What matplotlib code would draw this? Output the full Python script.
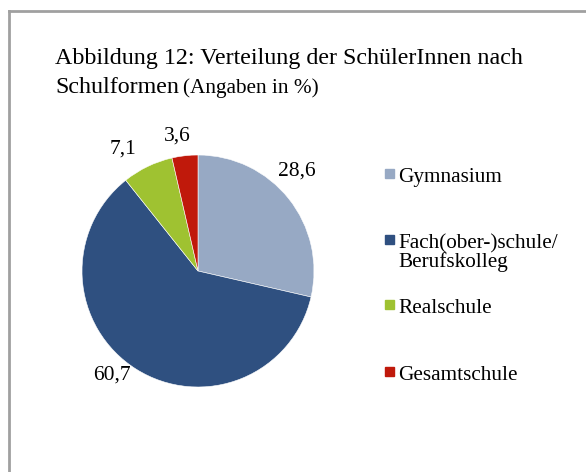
import matplotlib
matplotlib.use("Agg")
import matplotlib.pyplot as plt
from matplotlib.lines import Line2D
from matplotlib.patches import Rectangle

plt.rcParams['font.family'] = ['Liberation Serif', 'DejaVu Serif']

# data
categories = ['Gymnasium', 'Fach(ober-)schule/\nBerufskolleg', 'Realschule', 'Gesamtschule']
values = [28.6, 60.7, 7.1, 3.6]
value_labels = ['28,6', '60,7', '7,1', '3,6']
colors = ['#97A9C4', '#2F5080', '#9FC231', '#C0190B']

W, H = 586, 472
fig = plt.figure(figsize=(W / 100, H / 100), dpi=100)

# frame (only left and top edges visible in the reference)
fig.add_artist(Line2D([9.5 / W, 9.5 / W], [0, 1 - 11 / H], color='#A0A0A0', lw=2, transform=fig.transFigure))
fig.add_artist(Line2D([9.5 / W, 1], [1 - 11 / H, 1 - 11 / H], color='#A0A0A0', lw=2, transform=fig.transFigure))

# title
fig.text(55 / W, 1 - 64 / H, 'Abbildung 12: Verteilung der SchülerInnen nach', fontsize=17.3, va='baseline')
t2 = fig.text(55 / W, 1 - 93 / H, 'Schulformen', fontsize=17.3, va='baseline')
fig.canvas.draw()
bb = t2.get_window_extent()
fig.text(bb.x1 / W + 4 / W, 1 - 93 / H, '(Angaben in %)', fontsize=15.3, va='baseline')

# pie
cx, cy, r = 198, 271, 116
ax = fig.add_axes([(cx - r) / W, (H - cy - r) / H, 2 * r / W, 2 * r / H])
wedges, texts = ax.pie(values, colors=colors, startangle=90, counterclock=False,
                       labels=value_labels, labeldistance=1.22,
                       wedgeprops=dict(edgecolor='white', linewidth=0.4),
                       textprops=dict(fontsize=15.5))
# data label placement as in the reference (Excel "best fit")
label_pos = [(0.85, 0.86), (-0.74, -0.90), (-0.65, 1.05), (-0.18, 1.16)]
for t, (lx, ly) in zip(texts, label_pos):
    t.set_position((lx, ly))
    t.set_ha('center')
    t.set_va('center')
ax.set_xlim(-1, 1)
ax.set_ylim(-1, 1)
ax.set_aspect('equal')
ax.axis('off')

# legend
legend_baseline = [182, 248, 313, 380]
for cat, col, y in zip(categories, colors, legend_baseline):
    fig.add_artist(Rectangle((385 / W, 1 - (y - 4) / H), 9 / W, 9 / H, color=col, transform=fig.transFigure))
    for i, line in enumerate(cat.split('\n')):
        fig.text(398 / W, 1 - (y + 19 * i) / H, line, fontsize=15.3, va='baseline')

fig.savefig('out.png', dpi=100)
